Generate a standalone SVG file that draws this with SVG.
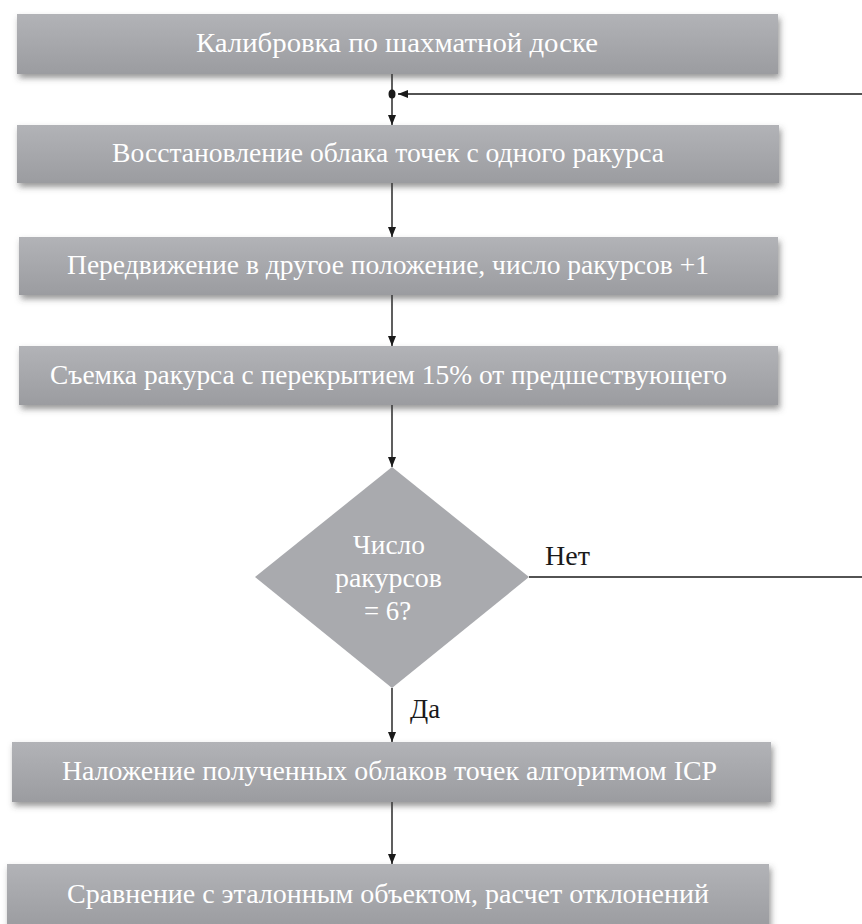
<svg xmlns="http://www.w3.org/2000/svg" width="862" height="924" viewBox="0 0 862 924">
<defs>
<linearGradient id="g" x1="0" y1="0" x2="0" y2="1">
<stop offset="0" stop-color="#b2b3b7"/>
<stop offset="1" stop-color="#9b9ca0"/>
</linearGradient>
<filter id="sh" x="-5%" y="-20%" width="110%" height="150%">
<feDropShadow dx="2" dy="4" stdDeviation="3" flood-color="#444" flood-opacity="0.55"/>
</filter>
<marker id="ah" markerUnits="userSpaceOnUse" markerWidth="10" markerHeight="10" refX="10" refY="4" orient="auto">
<path d="M0,0 L10,4 L0,8 Z" fill="#1a1a1a"/>
</marker>
<style>
.box{fill:url(#g);filter:url(#sh);}
.t{font-family:'Liberation Serif','Times New Roman',serif;font-size:28px;fill:#ffffff;text-anchor:middle;}
.lbl{font-family:'Liberation Serif','Times New Roman',serif;font-size:28px;fill:#1a1a1a;}
.c{stroke:#1a1a1a;stroke-width:1.4;fill:none;}
</style>
</defs>
<g id="connectors">
<line class="c" x1="392" y1="74" x2="392" y2="125" marker-end="url(#ah)"/>
<ellipse cx="392" cy="94" rx="3.5" ry="4.5" fill="#1a1a1a"/>
<line class="c" x1="862" y1="94" x2="398" y2="94" marker-end="url(#ah)"/>
<line class="c" x1="392" y1="183" x2="392" y2="237" marker-end="url(#ah)"/>
<line class="c" x1="392" y1="295" x2="392" y2="346" marker-end="url(#ah)"/>
<line class="c" x1="392" y1="405" x2="392" y2="467" marker-end="url(#ah)"/>
<line class="c" x1="392" y1="688" x2="392" y2="742" marker-end="url(#ah)"/>
<line class="c" x1="392" y1="802" x2="392" y2="864" marker-end="url(#ah)"/>
<line class="c" x1="529" y1="577" x2="862" y2="577"/>
<text class="lbl" x="545" y="565" textLength="45" lengthAdjust="spacingAndGlyphs">Нет</text>
<text class="lbl" x="410" y="718" textLength="30" lengthAdjust="spacingAndGlyphs">Да</text>
</g>
<g id="n1">
<rect class="box" x="17" y="14" width="761" height="60"/>
<text class="t" x="397" y="52" textLength="402" lengthAdjust="spacingAndGlyphs">Калибровка по шахматной доске</text>
</g>
<g id="n2">
<rect class="box" x="17" y="125" width="762" height="58"/>
<text class="t" x="388" y="162" textLength="552" lengthAdjust="spacingAndGlyphs">Восстановление облака точек с одного ракурса</text>
</g>
<g id="n3">
<rect class="box" x="19" y="237" width="759" height="58"/>
<text class="t" x="388" y="274" textLength="642" lengthAdjust="spacingAndGlyphs">Передвижение в другое положение, число ракурсов +1</text>
</g>
<g id="n4">
<rect class="box" x="19" y="346" width="759" height="59"/>
<text class="t" x="388.5" y="384" textLength="677" lengthAdjust="spacingAndGlyphs">Съемка ракурса с перекрытием 15% от предшествующего</text>
</g>
<g id="n5">
<polygon points="392,467 529,577 392,688 255,577" fill="#a9aaae"/>
<text class="t" x="389" y="554" textLength="72" lengthAdjust="spacingAndGlyphs">Число</text>
<text class="t" x="388.5" y="587" textLength="107" lengthAdjust="spacingAndGlyphs">ракурсов</text>
<text class="t" x="387.5" y="620" textLength="47" lengthAdjust="spacingAndGlyphs">= 6?</text>
</g>
<g id="n6">
<rect class="box" x="12" y="742" width="759" height="60"/>
<text class="t" x="389.5" y="780" textLength="655" lengthAdjust="spacingAndGlyphs">Наложение полученных облаков точек алгоритмом ICP</text>
</g>
<g id="n7">
<rect class="box" x="7" y="864" width="762" height="64"/>
<text class="t" x="388" y="903" textLength="642" lengthAdjust="spacingAndGlyphs">Сравнение с эталонным объектом, расчет отклонений</text>
</g>
</svg>
